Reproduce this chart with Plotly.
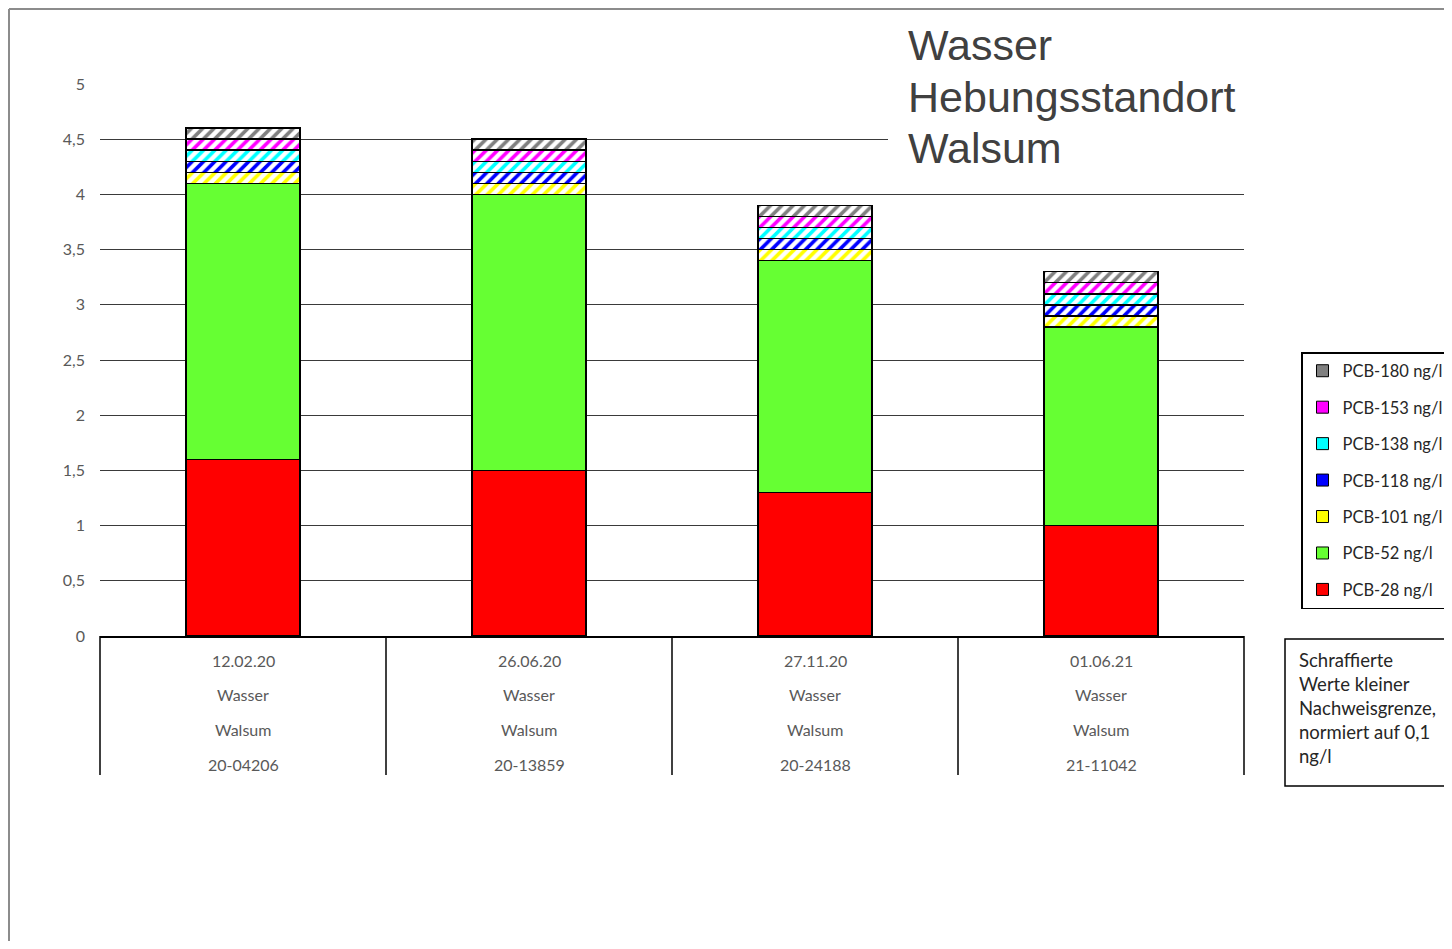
import plotly.graph_objects as go

# ---------------- data ----------------
dates = ["12.02.20", "26.06.20", "27.11.20", "01.06.21"]
matrix = ["Wasser", "Wasser", "Wasser", "Wasser"]
site = ["Walsum", "Walsum", "Walsum", "Walsum"]
sample_ids = ["20-04206", "20-13859", "20-24188", "21-11042"]

pcb28 = [1.6, 1.5, 1.3, 1.0]
pcb52 = [2.5, 2.5, 2.1, 1.8]
pcb101 = [0.1, 0.1, 0.1, 0.1]
pcb118 = [0.1, 0.1, 0.1, 0.1]
pcb138 = [0.1, 0.1, 0.1, 0.1]
pcb153 = [0.1, 0.1, 0.1, 0.1]
pcb180 = [0.1, 0.1, 0.1, 0.1]

y_tick_vals = [0, 0.5, 1, 1.5, 2, 2.5, 3, 3.5, 4, 4.5, 5]
y_tick_text = ["0", "0,5", "1", "1,5", "2", "2,5", "3", "3,5", "4", "4,5", "5"]

title_lines = ["Wasser", "Hebungsstandort", "Walsum"]
note_text = "Schraffierte<br>Werte kleiner<br>Nachweisgrenze,<br>normiert auf 0,1<br>ng/l"

series = [
    ("PCB-28 ng/l", pcb28, "#FF0000", False),
    ("PCB-52 ng/l", pcb52, "#66FF33", False),
    ("PCB-101 ng/l", pcb101, "#FFFF00", True),
    ("PCB-118 ng/l", pcb118, "#0000FF", True),
    ("PCB-138 ng/l", pcb138, "#00FFFF", True),
    ("PCB-153 ng/l", pcb153, "#FF00FF", True),
    ("PCB-180 ng/l", pcb180, "#808080", True),
]

# ---------------- layout geometry (page pixels) ----------------
OFF = 8  # page body margin
W, H = 1452 - OFF, 949 - 2 * OFF
L, R, T, B = 100, 1244, 84, 636
PW, PH = R - L, B - T


def px(x):
    return (x - L) / PW


def py(y):
    return (B - y) / PH


FONT_C = "Lato, 'Open Sans', sans-serif"
GRAY_TXT = "#595959"

fig = go.Figure()
for name, vals, color, hatched in series:
    if hatched:
        marker = dict(color="white",
                      pattern=dict(shape="/", fgcolor=color, bgcolor="white",
                                   size=8, solidity=0.45, fillmode="replace"),
                      line=dict(color="black", width=1.5))
    else:
        marker = dict(color=color, line=dict(color="black", width=1.5))
    fig.add_trace(go.Bar(x=sample_ids, y=vals, name=name, marker=marker,
                         showlegend=False, width=0.4))

# legend entries with solid swatches (top entry first)
for name, vals, color, hatched in reversed(series):
    fig.add_trace(go.Bar(x=[None], y=[None], name=name, legendgroup=name,
                         marker=dict(color=color, line=dict(color="black", width=1)),
                         showlegend=True))

shapes = []
# table-like separators below x axis
for i in range(len(sample_ids) + 1):
    xp = i / len(sample_ids)
    shapes.append(dict(type="line", xref="paper", yref="paper", x0=xp, x1=xp,
                       y0=0, y1=py(775), line=dict(color="black", width=1.5)))
# outer chart border (gray)
shapes.append(dict(type="line", xref="paper", yref="paper", x0=px(9), x1=px(9),
                   y0=py(9), y1=py(970), line=dict(color="#8c8c8c", width=2)))
shapes.append(dict(type="line", xref="paper", yref="paper", x0=px(9), x1=px(1470),
                   y0=py(9), y1=py(9), line=dict(color="#8c8c8c", width=2)))
# white area behind title (hides gridlines)
shapes.append(dict(type="rect", xref="paper", yref="paper", x0=px(888), x1=px(1250),
                   y0=py(22), y1=py(172), line=dict(width=0), fillcolor="white",
                   layer="above"))
# note box
shapes.append(dict(type="rect", xref="paper", yref="paper", x0=px(1285), x1=px(1470),
                   y0=py(639), y1=py(786), line=dict(color="black", width=1.5),
                   fillcolor="white"))

annotations = []
rows = [(dates, 660), (matrix, 694), (site, 729), (sample_ids, 764)]
for labels, ypix in rows:
    for xc, lab in zip(sample_ids, labels):
        annotations.append(dict(x=xc, xref="x", y=py(ypix), yref="paper",
                                text=lab, showarrow=False, xanchor="center",
                                yanchor="middle",
                                font=dict(family=FONT_C, size=16, color=GRAY_TXT)))

for line, ypix in zip(title_lines, [45, 97, 148]):
    annotations.append(dict(x=px(906), xref="paper", y=py(ypix), yref="paper",
                            text=line, showarrow=False, xanchor="left",
                            yanchor="middle", align="left",
                            font=dict(family="Liberation Sans, Arial", size=43,
                                      color="#404040")))
annotations.append(dict(x=px(1297), xref="paper", y=py(647), yref="paper",
                        text=note_text, showarrow=False, xanchor="left",
                        yanchor="top", align="left",
                        font=dict(family=FONT_C, size=18.5, color="#262626")))

fig.update_layout(
    width=W, height=H,
    margin=dict(l=L - OFF, r=W - (R - OFF), t=T - OFF, b=H - (B - OFF),
                autoexpand=False),
    barmode="stack",
    plot_bgcolor="white", paper_bgcolor="white",
    shapes=shapes, annotations=annotations,
    xaxis=dict(showticklabels=False, showgrid=False, showline=True,
               linecolor="black", linewidth=1.5, ticks="", zeroline=False),
    yaxis=dict(range=[0, 5], tickvals=y_tick_vals, ticktext=y_tick_text,
               showgrid=True, gridcolor="#3a3a3a", gridwidth=1, zeroline=False,
               showline=False, ticks="", ticklabelstandoff=14,
               tickfont=dict(family=FONT_C, size=16, color=GRAY_TXT)),
    legend=dict(x=px(1301), y=py(352), xanchor="left", yanchor="top",
                traceorder="grouped", tracegroupgap=12,
                bordercolor="black", borderwidth=1.5, bgcolor="white",
                font=dict(family=FONT_C, size=16.5, color="#262626"),
                itemwidth=30),
)

fig.write_html("out.html")
